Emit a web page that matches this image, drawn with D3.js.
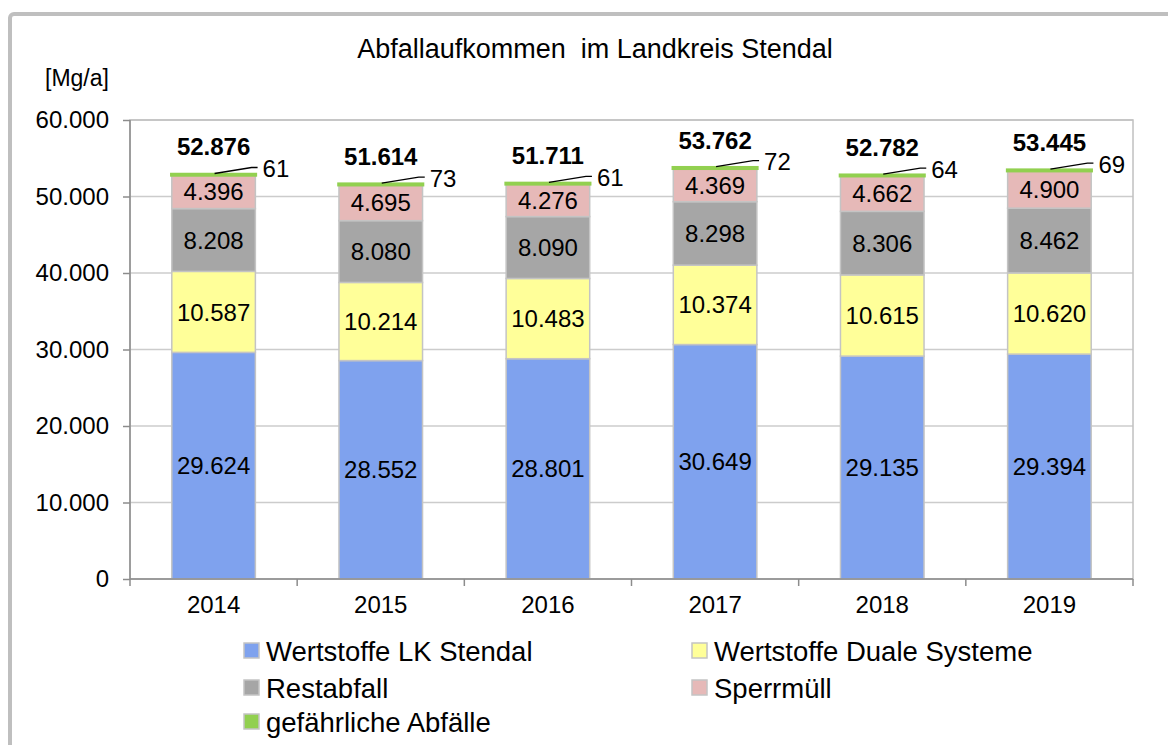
<!DOCTYPE html>
<html>
<head>
<meta charset="utf-8">
<script src="https://cdn.jsdelivr.net/npm/d3@7"></script>
<style>
  body { margin: 0; background: #fff; }
  svg { display: block; font-family: "Liberation Sans", Arial, sans-serif; }
</style>
</head>
<body>
<div id="chart"></div>
<script>
var years = ["2014", "2015", "2016", "2017", "2018", "2019"];
var seriesNames = ["Wertstoffe LK Stendal", "Wertstoffe Duale Systeme", "Restabfall", "Sperrmüll", "gefährliche Abfälle"];
var wertstoffeLK = [29624, 28552, 28801, 30649, 29135, 29394];
var wertstoffeDual = [10587, 10214, 10483, 10374, 10615, 10620];
var restabfall = [8208, 8080, 8090, 8298, 8306, 8462];
var sperrmuell = [4396, 4695, 4276, 4369, 4662, 4900];
var gefaehrlich = [61, 73, 61, 72, 64, 69];
var totals = [52876, 51614, 51711, 53762, 52782, 53445];
var yTicks = [0, 10000, 20000, 30000, 40000, 50000, 60000];

var colors = ["#7fa2ee", "#ffff99", "#a6a6a6", "#e6b9b8", "#92d050"];

var width = 1168, height = 745;
var margin = { left: 130, right: 35, top: 120, bottom: 166 };

var svg = d3.select("#chart").append("svg")
    .attr("width", width)
    .attr("height", height);

// outer frame
svg.append("rect")
    .attr("x", 10).attr("y", 14)
    .attr("width", 1200).attr("height", 800)
    .attr("rx", 4)
    .attr("fill", "#fff")
    .attr("stroke", "#bfbfbf")
    .attr("stroke-width", 4);

var x = d3.scaleBand()
    .domain(years)
    .range([margin.left, width - margin.right])
    .paddingInner(0.5)
    .paddingOuter(0.25);

var y = d3.scaleLinear()
    .domain([0, 60000])
    .range([height - margin.bottom, margin.top]);

var fmt = d3.formatLocale({ decimal: ",", thousands: ".", grouping: [3] }).format(",d");

// stack data
var table = years.map(function (yr, i) {
    return { year: yr, s0: wertstoffeLK[i], s1: wertstoffeDual[i], s2: restabfall[i], s3: sperrmuell[i], s4: gefaehrlich[i], total: totals[i] };
});
var stack = d3.stack().keys(["s0", "s1", "s2", "s3", "s4"]);
var layers = stack(table);

// gridlines
svg.append("g")
    .selectAll("line")
    .data(yTicks)
    .enter().append("line")
    .attr("x1", margin.left).attr("x2", width - margin.right)
    .attr("y1", function (d) { return y(d); })
    .attr("y2", function (d) { return y(d); })
    .attr("stroke", "#cccccc")
    .attr("stroke-width", 1.5);

// plot border
svg.append("rect")
    .attr("x", margin.left).attr("y", margin.top)
    .attr("width", width - margin.right - margin.left)
    .attr("height", height - margin.bottom - margin.top)
    .attr("fill", "none")
    .attr("stroke", "#c0c0c0")
    .attr("stroke-width", 1.5);

// bars
var groups = svg.append("g")
    .selectAll("g")
    .data(layers)
    .enter().append("g")
    .attr("fill", function (d, i) { return colors[i]; });

groups.selectAll("rect")
    .data(function (d) { return d; })
    .enter().append("rect")
    .attr("x", function (d) { return x(d.data.year); })
    .attr("width", x.bandwidth())
    .attr("y", function (d) { return y(d[1]); })
    .attr("height", function (d) { return y(d[0]) - y(d[1]); })
    .attr("stroke", "#c4c4c4")
    .attr("stroke-width", 1.5);

// the thin top layer is drawn with a green outline so it stays visible
groups.filter(function (d, i) { return i === 4; })
    .selectAll("rect")
    .attr("stroke", colors[4])
    .attr("stroke-width", 3.5);

// segment labels (first four layers)
layers.slice(0, 4).forEach(function (layer) {
    svg.append("g")
        .selectAll("text")
        .data(layer)
        .enter().append("text")
        .attr("x", function (d) { return x(d.data.year) + x.bandwidth() / 2; })
        .attr("y", function (d) { return (y(d[0]) + y(d[1])) / 2; })
        .attr("dy", "0.36em")
        .attr("text-anchor", "middle")
        .style("font-size", "24px")
        .text(function (d) { return fmt(d[1] - d[0]); });
});

// small value labels with leader lines
var hazLayer = layers[4];
svg.append("g")
    .selectAll("path")
    .data(hazLayer)
    .enter().append("path")
    .attr("d", function (d) {
        var cx = x(d.data.year) + x.bandwidth() / 2;
        var ty = y(d[1]);
        return "M" + (cx + 1) + "," + (ty - 1) + "L" + (cx + 38) + "," + (ty - 7) + "L" + (cx + 44) + "," + (ty - 7);
    })
    .attr("fill", "none")
    .attr("stroke", "#000")
    .attr("stroke-width", 1.3);

svg.append("g")
    .selectAll("text")
    .data(hazLayer)
    .enter().append("text")
    .attr("x", function (d) { return x(d.data.year) + x.bandwidth() / 2 + 49; })
    .attr("y", function (d) { return y(d[1]) - 6; })
    .attr("dy", "0.36em")
    .style("font-size", "24px")
    .text(function (d) { return fmt(d.data.s4); });

// totals
svg.append("g")
    .selectAll("text")
    .data(table)
    .enter().append("text")
    .attr("x", function (d) { return x(d.year) + x.bandwidth() / 2; })
    .attr("y", function (d) { return y(d.s0 + d.s1 + d.s2 + d.s3 + d.s4) - 19; })
    .attr("text-anchor", "middle")
    .style("font-size", "24px")
    .style("font-weight", "bold")
    .text(function (d) { return fmt(d.total); });

// y axis
var yAxis = svg.append("g")
    .attr("transform", "translate(" + margin.left + ",0)")
    .call(d3.axisLeft(y).tickValues(yTicks).tickSize(7).tickPadding(14).tickFormat(fmt));
yAxis.selectAll("text").style("font-size", "24px").attr("fill", "#000").style("font-family", "inherit");
yAxis.selectAll("line").attr("stroke", "#8c8c8c").attr("stroke-width", 1.5);
yAxis.select(".domain").attr("stroke", "#8c8c8c").attr("stroke-width", 1.5).attr("d", "M0," + y(0) + "V" + y(60000));

// x axis
var xAxis = svg.append("g")
    .attr("transform", "translate(0," + y(0) + ")")
    .call(d3.axisBottom(x).tickSize(0).tickPadding(17));
xAxis.selectAll("text").style("font-size", "24px").attr("fill", "#000").style("font-family", "inherit");
xAxis.select(".domain").attr("stroke", "#8c8c8c").attr("stroke-width", 1.5).attr("d", "M" + margin.left + ",0H" + (width - margin.right));

// category boundary ticks
var step = x.step();
var bounds = d3.range(years.length + 1).map(function (i) { return x(years[0]) - step * 0.25 + i * step; });
xAxis.selectAll(".bound")
    .data(bounds)
    .enter().append("line")
    .attr("class", "bound")
    .attr("x1", function (d) { return d; }).attr("x2", function (d) { return d; })
    .attr("y1", 0).attr("y2", 7)
    .attr("stroke", "#8c8c8c")
    .attr("stroke-width", 1.5);

// title and unit
svg.append("text")
    .attr("x", 595).attr("y", 48)
    .attr("dy", "0.36em")
    .attr("text-anchor", "middle")
    .style("font-size", "27px")
    .style("white-space", "pre")
    .text("Abfallaufkommen  im Landkreis Stendal");

svg.append("text")
    .attr("x", 77).attr("y", 78)
    .attr("dy", "0.36em")
    .attr("text-anchor", "middle")
    .style("font-size", "23px")
    .text("[Mg/a]");

// legend
var legendPos = [[244, 651], [692, 651], [244, 688], [692, 688], [244, 722]];
var legend = svg.append("g")
    .selectAll("g")
    .data(seriesNames)
    .enter().append("g")
    .attr("transform", function (d, i) { return "translate(" + legendPos[i][0] + "," + legendPos[i][1] + ")"; });

legend.append("rect")
    .attr("x", 0).attr("y", -8)
    .attr("width", 15).attr("height", 15)
    .attr("fill", function (d, i) { return colors[i]; })
    .attr("stroke", "#c4c4c4")
    .attr("stroke-width", 1.5);

legend.append("text")
    .attr("x", 22).attr("y", 0)
    .attr("dy", "0.36em")
    .style("font-size", "27.5px")
    .text(function (d) { return d; });
</script>
</body>
</html>
